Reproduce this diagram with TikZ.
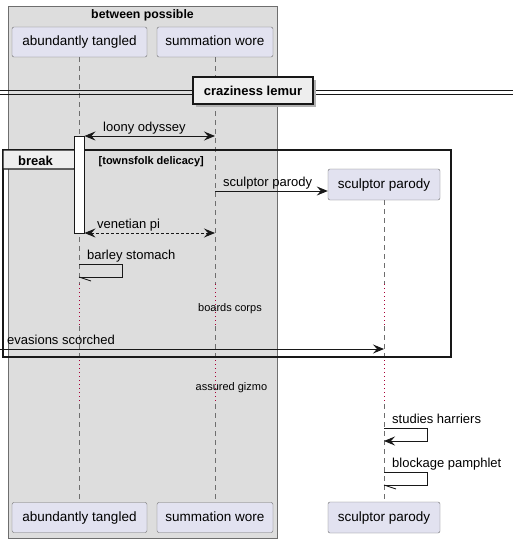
\documentclass[tikz,border=0pt]{standalone}
\usepackage{fontspec}
\setmainfont{Liberation Sans}
\usetikzlibrary{arrows.meta}
\definecolor{partfill}{HTML}{E2E2F0}
\definecolor{boxfill}{HTML}{DDDDDD}
\definecolor{tabfill}{HTML}{EEEEEE}
\definecolor{delayred}{HTML}{A80036}
\definecolor{linegray}{HTML}{6E6E6E}
\definecolor{inkblack}{HTML}{181818}
\begin{document}
\begin{tikzpicture}[x=1pt,y=-1pt,
  >={Stealth[length=11pt,width=9pt,inset=4pt]},
  part/.style={draw=linegray, fill=partfill, rounded corners=2pt, minimum height=30pt, inner sep=0pt, text height=10pt, text depth=3pt, font=\fontsize{13.5}{16}\selectfont},
  lifeline/.style={draw=linegray, dash pattern=on 5pt off 4pt, line width=0.8pt},
  delayline/.style={draw=delayred, dash pattern=on 1pt off 3pt, line width=1pt},
  msg/.style={draw=inkblack, line width=0.9pt},
  halfhead/.style={draw=inkblack, line width=0.9pt},
  lbl/.style={font=\fontsize{13}{15}\selectfont, inner sep=0pt, anchor=base west},
  smalllbl/.style={font=\fontsize{11}{13}\selectfont, inner sep=0pt, anchor=base west},
  boldlbl/.style={font=\bfseries\fontsize{13}{15}\selectfont, inner sep=0pt, anchor=base west},
  actbox/.style={draw=inkblack, fill=white, line width=0.9pt, minimum width=10pt, inner sep=0pt},
  framebox/.style={draw=inkblack, line width=1.6pt},
]
\useasboundingbox (0,0) rectangle (513,543);
\fill[white] (0,0) rectangle (513,543);

% group box
\draw[draw=linegray, fill=boxfill, line width=0.9pt] (8,6) rectangle (277.5,538);
\node[font=\bfseries\fontsize{12.3}{14}\selectfont, inner sep=0pt, anchor=base] (grp) at (142.5,19) {between possible};

% participants
\node[part, minimum width=135pt] (atT) at (79.5,42) {abundantly tangled};
\node[part, minimum width=116pt] (swT) at (215,42) {summation wore};
\node[part, minimum width=112pt, minimum height=31pt] (spT) at (384,184.5) {sculptor parody};
\node[part, minimum width=135pt] (atB) at (79.5,517.5) {abundantly tangled};
\node[part, minimum width=116pt] (swB) at (215,517.5) {summation wore};
\node[part, minimum width=112pt, minimum height=31pt] (spB) at (384,517.5) {sculptor parody};

% delay levels
\coordinate (d1) at (0,284);
\coordinate (d2) at (0,326);
\coordinate (d3) at (0,360);
\coordinate (d4) at (0,404);

% lifelines
\foreach \p in {at,sw}{
  \draw[lifeline] (\p T.south) -- (\p T.south |- d1);
}
\draw[lifeline] (spT.south) -- (spT.south |- d1);
\foreach \p in {at,sw,sp}{
  \draw[delayline] (\p T.south |- d1) -- (\p T.south |- d2);
  \draw[lifeline] (\p T.south |- d2) -- (\p T.south |- d3);
  \draw[delayline] (\p T.south |- d3) -- (\p T.south |- d4);
  \draw[lifeline] (\p T.south |- d4) -- (\p B.north);
}

% divider
\draw[inkblack, line width=0.9pt] (0,90.5) -- (513,90.5);
\draw[inkblack, line width=0.9pt] (0,94) -- (513,94);
\fill[black!30] (195.5,79.5) rectangle (315.5,106.5);
\node[draw=inkblack, fill=tabfill, line width=1.6pt, minimum width=120pt, minimum height=27pt, inner sep=0pt, font=\bfseries\fontsize{13}{15}\selectfont] (div) at (253,90.5) {craziness lemur};

% break frame
\draw[framebox] (3,150) rectangle (451,357);
\draw[draw=inkblack, fill=tabfill, line width=1.2pt] (3,150) -- (82,150) -- (82,160) -- (74,169) -- (3,169) -- cycle;
\node[boldlbl] (brk) at (18,165) {break};
\node[font=\bfseries\fontsize{11}{13}\selectfont, inner sep=0pt, anchor=base west] (cond) at (98.5,164) {[townsfolk delicacy]};

% activation
\node[actbox, minimum height=97pt] (act) at (79,184.5) {};

% messages
\draw[msg, <->] (act.east |- 0,136) -- (swT.south |- 0,136);
\node[lbl] (m1) at (103,131) {loony odyssey};

\draw[msg, ->] (swT.south |- 0,191) -- (spT.west |- 0,191);
\node[lbl] (m2) at (223,186) {sculptor parody};

\draw[msg, <->, dash pattern=on 3pt off 2pt] (act.east |- 0,233) -- (swT.south |- 0,233);
\node[lbl] (m3) at (97,228) {venetian pi};

\coordinate (bs1) at (79,264);
\coordinate (bs2) at (79,277);
\draw[msg] (bs1) -- (122,264) -- (122,277) -- (bs2);
\draw[halfhead] (bs2) -- ++(12,4);
\node[lbl] (m4) at (87,259) {barley stomach};

\node[smalllbl] (dl1) at (198,311) {boards corps};

\coordinate (inleft) at (0,349);
\draw[msg, ->] (inleft) -- (spT.south |- inleft);
\node[lbl] (m5) at (7,344) {evasions scorched};

\node[smalllbl] (dl2) at (195.5,390.5) {assured gizmo};

\coordinate (sh1) at (384,428);
\coordinate (sh2) at (384,441);
\draw[msg, ->] (sh1) -- (427,428) -- (427,441) -- (sh2);
\node[lbl] (m6) at (392,423) {studies harriers};

\coordinate (bp1) at (384,472);
\coordinate (bp2) at (384,485);
\draw[msg] (bp1) -- (427,472) -- (427,485) -- (bp2);
\draw[halfhead] (bp2) -- ++(12,4);
\node[lbl] (m7) at (392,467) {blockage pamphlet};
\end{tikzpicture}
\end{document}
